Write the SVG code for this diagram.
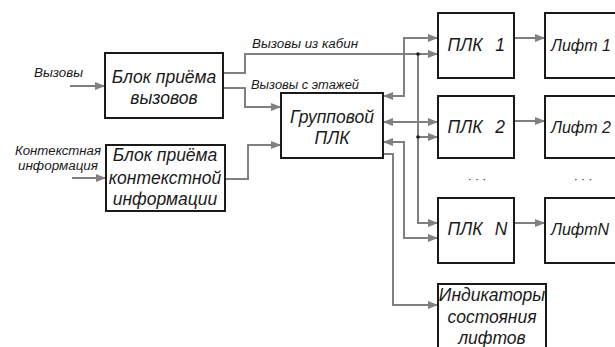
<svg xmlns="http://www.w3.org/2000/svg" width="615" height="347" viewBox="0 0 615 347">
<style>
.box{fill:#fff;stroke:#1a1a1a;stroke-width:2}
.t{font-family:"Liberation Sans",Arial,sans-serif;font-style:italic;fill:#1a1a1a;text-anchor:middle}
.big{font-size:17.5px}
.sm{font-size:12.5px}
.lift{font-size:16px;text-anchor:start}
.lt{text-anchor:start}
.c{fill:none;stroke:#808080;stroke-width:2}
.dot{fill:#1a1a1a}
</style>
<defs>
<marker id="ah" markerWidth="10" markerHeight="8" refX="9" refY="4" orient="auto-start-reverse" markerUnits="userSpaceOnUse">
<path d="M0,0 L10,4 L0,8 Z" fill="#808080"/>
</marker>
</defs>
<rect width="615" height="347" fill="#fff"/>
<g id="connectors">
<path class="c" d="M70,86 H104" marker-end="url(#ah)"/>
<path class="c" d="M72,178 H105" marker-end="url(#ah)"/>
<path class="c" d="M223,73 H245 V54 H437" marker-end="url(#ah)"/>
<path class="c" d="M223,88 H245 V107 H280" marker-end="url(#ah)"/>
<path class="c" d="M225,179 H248 V145 H280" marker-end="url(#ah)"/>
<path class="c" d="M384,96 H404 V38 H437" marker-start="url(#ah)" marker-end="url(#ah)"/>
<path class="c" d="M384,122 H437" marker-start="url(#ah)" marker-end="url(#ah)"/>
<path class="c" d="M384,142 H404 V238 H437" marker-start="url(#ah)" marker-end="url(#ah)"/>
<path class="c" d="M383,154 H393 V305 H437" marker-end="url(#ah)"/>
<path class="c" d="M418,54 V223 H437" marker-end="url(#ah)"/>
<path class="c" d="M418,137 H437" marker-end="url(#ah)"/>
<path class="c" d="M514,38 H544" marker-end="url(#ah)"/>
<path class="c" d="M514,121 H544" marker-end="url(#ah)"/>
<path class="c" d="M514,223 H544" marker-end="url(#ah)"/>
<circle class="dot" cx="418" cy="54" r="1.8"/>
<circle class="dot" cx="418" cy="137" r="1.8"/>
</g>
<g id="labels">
<text class="t sm lt" x="34" y="77" textLength="49" lengthAdjust="spacingAndGlyphs">Вызовы</text>
<text class="t sm lt" x="15" y="155" textLength="86" lengthAdjust="spacingAndGlyphs">Контекстная</text>
<text class="t sm lt" x="18" y="170" textLength="80" lengthAdjust="spacingAndGlyphs">информация</text>
<text class="t sm lt" x="252" y="48" textLength="106" lengthAdjust="spacingAndGlyphs">Вызовы из кабин</text>
<text class="t sm lt" x="251" y="89" textLength="108" lengthAdjust="spacingAndGlyphs">Вызовы с этажей</text>
<text class="t" x="477" y="183" style="font-size:12px">· · ·</text>
<text class="t" x="583" y="183" style="font-size:12px">· · ·</text>
</g>
<g id="blok-vyzovov">
<rect class="box" x="105" y="53" width="118" height="65"/>
<text class="t big" x="164" y="83">Блок приёма</text>
<text class="t big" x="164" y="104">вызовов</text>
</g>
<g id="blok-kontekst">
<rect class="box" x="106" y="145" width="119" height="66"/>
<text class="t big" x="165" y="161">Блок приёма</text>
<text class="t big" x="165" y="184">контекстной</text>
<text class="t big" x="165" y="205">информации</text>
</g>
<g id="gruppovoy">
<rect class="box" x="281" y="93" width="102" height="65"/>
<text class="t big" x="332" y="123">Групповой</text>
<text class="t big" x="332" y="144">ПЛК</text>
</g>
<g id="plk1">
<rect class="box" x="438" y="13" width="76" height="65"/>
<text class="t big" x="465" y="51">ПЛК</text>
<text class="t big" x="500" y="51">1</text>
</g>
<g id="plk2">
<rect class="box" x="438" y="96" width="76" height="62"/>
<text class="t big" x="465" y="133">ПЛК</text>
<text class="t big" x="500" y="133">2</text>
</g>
<g id="plkN">
<rect class="box" x="438" y="198" width="76" height="65"/>
<text class="t big" x="465" y="235">ПЛК</text>
<text class="t big" x="501" y="235">N</text>
</g>
<g id="lift1">
<rect class="box" x="545" y="13" width="80" height="65"/>
<text class="t lift" x="551" y="51">Лифт 1</text>
</g>
<g id="lift2">
<rect class="box" x="545" y="96" width="80" height="62"/>
<text class="t lift" x="551" y="133">Лифт 2</text>
</g>
<g id="liftN">
<rect class="box" x="545" y="198" width="80" height="65"/>
<text class="t lift" x="551" y="235">ЛифтN</text>
</g>
<g id="indikatory">
<rect class="box" x="438" y="284" width="108" height="64"/>
<text class="t big" x="492" y="301">Индикаторы</text>
<text class="t big" x="492" y="323">состояния</text>
<text class="t big" x="492" y="344">лифтов</text>
</g>
</svg>
